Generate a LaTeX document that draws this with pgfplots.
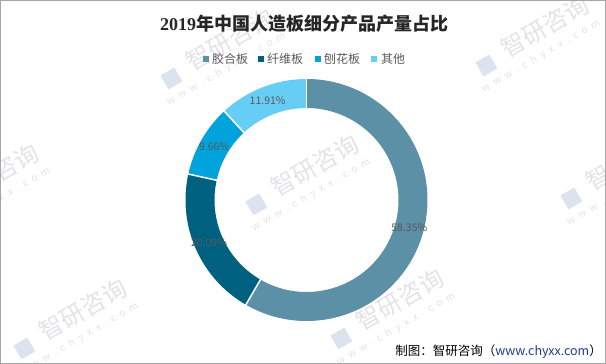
\documentclass[border=0pt]{standalone}
\usepackage{pgfplots}
\pgfplotsset{compat=1.18}
\usepackage{pgfplotstable}
\usepackage{fontspec}
\setmainfont{Noto Sans CJK SC}
\newfontfamily\serifb{Liberation Serif}
\newfontfamily\wmfont[LetterSpace=50]{Noto Sans CJK SC}
\definecolor{cA}{HTML}{5B90A6}
\definecolor{cB}{HTML}{006080}
\definecolor{cC}{HTML}{00A3DC}
\definecolor{cD}{HTML}{66CEF5}
\definecolor{txt}{HTML}{595959}
\definecolor{link}{HTML}{1F3C8C}
\definecolor{wm}{HTML}{C8C8D0}
\definecolor{wmlogo}{HTML}{B8C8E0}

\pgfplotstableread{
name value
胶合板 58.35
纤维板 20.09
刨花板 9.66
其他 11.91
}\datatable
\pgfplotstablegetelem{0}{value}\of\datatable\edef\vA{\pgfplotsretval}
\pgfplotstablegetelem{1}{value}\of\datatable\edef\vB{\pgfplotsretval}
\pgfplotstablegetelem{2}{value}\of\datatable\edef\vC{\pgfplotsretval}
\pgfplotstablegetelem{3}{value}\of\datatable\edef\vD{\pgfplotsretval}
\pgfmathsetmacro\eA{90-3.6*\vA}
\pgfmathsetmacro\eB{\eA-3.6*\vB}
\pgfmathsetmacro\eC{\eB-3.6*\vC}
\pgfmathsetmacro\eD{\eC-3.6*\vD}
\pgfmathsetmacro\mA{(90+\eA)/2}
\pgfmathsetmacro\mB{(\eA+\eB)/2}
\pgfmathsetmacro\mC{(\eB+\eC)/2}
\pgfmathsetmacro\mD{(\eC+\eD)/2}
\def\Ro{121pt}
\def\Ri{92pt}
\def\Rl{106.5pt}

\newcommand\wmark[2]{%
  \node[rotate=30, text=wm, opacity=0.5, inner sep=0pt, font=\fontsize{24}{26}\selectfont] at (axis cs:#1,#2) {智研咨询};
  \node[rotate=30, text=wm, opacity=0.5, inner sep=0pt, font=\wmfont\fontsize{10}{12}\selectfont] at ([shift={(-4pt,-29pt)}]axis cs:#1,#2) {www.chyxx.com};
  \fill[wmlogo, opacity=0.5, rotate around={30:(axis cs:#1,#2)}] ([shift={(-78pt,-12pt)}]axis cs:#1,#2) rectangle ([shift={(-62pt,4pt)}]axis cs:#1,#2);
}

\begin{document}
\begin{tikzpicture}
\path[use as bounding box] (0,0) rectangle (606pt,364pt);
\begin{axis}[
  at={(0,0)}, anchor=south west,
  hide axis, scale only axis,
  x=1pt, y=1pt,
  xmin=0, xmax=606, ymin=0, ymax=364,
  clip=false,
]
% ring
\fill[cA] ([shift={(90:\Ro)}]axis cs:306.5,164) arc[start angle=90,end angle=\eA,radius=\Ro] -- ([shift={(\eA:\Ri)}]axis cs:306.5,164) arc[start angle=\eA,end angle=90,radius=\Ri] -- cycle;
\fill[cB] ([shift={(\eA:\Ro)}]axis cs:306.5,164) arc[start angle=\eA,end angle=\eB,radius=\Ro] -- ([shift={(\eB:\Ri)}]axis cs:306.5,164) arc[start angle=\eB,end angle=\eA,radius=\Ri] -- cycle;
\fill[cC] ([shift={(\eB:\Ro)}]axis cs:306.5,164) arc[start angle=\eB,end angle=\eC,radius=\Ro] -- ([shift={(\eC:\Ri)}]axis cs:306.5,164) arc[start angle=\eC,end angle=\eB,radius=\Ri] -- cycle;
\fill[cD] ([shift={(\eC:\Ro)}]axis cs:306.5,164) arc[start angle=\eC,end angle=\eD,radius=\Ro] -- ([shift={(\eD:\Ri)}]axis cs:306.5,164) arc[start angle=\eD,end angle=\eC,radius=\Ri] -- cycle;
% separators
\draw[white, line width=1.5pt] ([shift={(90:90pt)}]axis cs:306.5,164) -- ([shift={(90:123pt)}]axis cs:306.5,164);
\draw[white, line width=1.5pt] ([shift={(\eA:90pt)}]axis cs:306.5,164) -- ([shift={(\eA:123pt)}]axis cs:306.5,164);
\draw[white, line width=1.5pt] ([shift={(\eB:90pt)}]axis cs:306.5,164) -- ([shift={(\eB:123pt)}]axis cs:306.5,164);
\draw[white, line width=1.5pt] ([shift={(\eC:90pt)}]axis cs:306.5,164) -- ([shift={(\eC:123pt)}]axis cs:306.5,164);
% watermarks
\begin{scope}
\clip (axis cs:0,0) rectangle (axis cs:606,364);
\wmark{-5}{189}
\wmark{83}{54}
\wmark{230}{324}
\wmark{315}{198}
\wmark{400}{64}
\wmark{545}{337}
\wmark{630}{204}
\end{scope}
% labels
\node[text=txt, font=\fontsize{10.5}{12}\selectfont] at ([shift={(\mA:\Rl)}]axis cs:306.5,164) {\vA\%};
\node[text=txt, font=\fontsize{10.5}{12}\selectfont] at ([shift={(\mB:\Rl)}]axis cs:306.5,164) {\vB\%};
\node[text=txt, font=\fontsize{10.5}{12}\selectfont] at ([shift={(\mC:\Rl)}]axis cs:306.5,164) {\vC\%};
\node[text=txt, font=\fontsize{10.5}{12}\selectfont] at ([shift={(\mD:\Rl)}]axis cs:306.5,164) {\vD\%};
% title
\node[text=black!85, font=\fontsize{18}{20}\selectfont\bfseries] at (axis cs:304,340) {{\serifb\bfseries 2019}年中国人造板细分产品产量占比};
% legend
\fill[cA] (axis cs:203,302) rectangle (axis cs:209,308);
\node[anchor=west, inner sep=0pt, text=txt, font=\fontsize{12}{14}\selectfont] at (axis cs:212,305) {胶合板};
\fill[cB] (axis cs:258,302) rectangle (axis cs:264,308);
\node[anchor=west, inner sep=0pt, text=txt, font=\fontsize{12}{14}\selectfont] at (axis cs:267,305) {纤维板};
\fill[cC] (axis cs:315,302) rectangle (axis cs:321,308);
\node[anchor=west, inner sep=0pt, text=txt, font=\fontsize{12}{14}\selectfont] at (axis cs:324,305) {刨花板};
\fill[cD] (axis cs:371,302) rectangle (axis cs:377,308);
\node[anchor=west, inner sep=0pt, text=txt, font=\fontsize{12}{14}\selectfont] at (axis cs:381,305) {其他};
% footer
\node[anchor=east, inner sep=0pt, font=\fontsize{12.5}{14}\selectfont] at (axis cs:602,12) {制图：智研咨询（\textcolor{link}{www.chyxx.com}）};
% border
\draw[gray!70, line width=1pt] (axis cs:0.5,0.5) rectangle (axis cs:605.5,363.5);
\end{axis}
\end{tikzpicture}
\end{document}
